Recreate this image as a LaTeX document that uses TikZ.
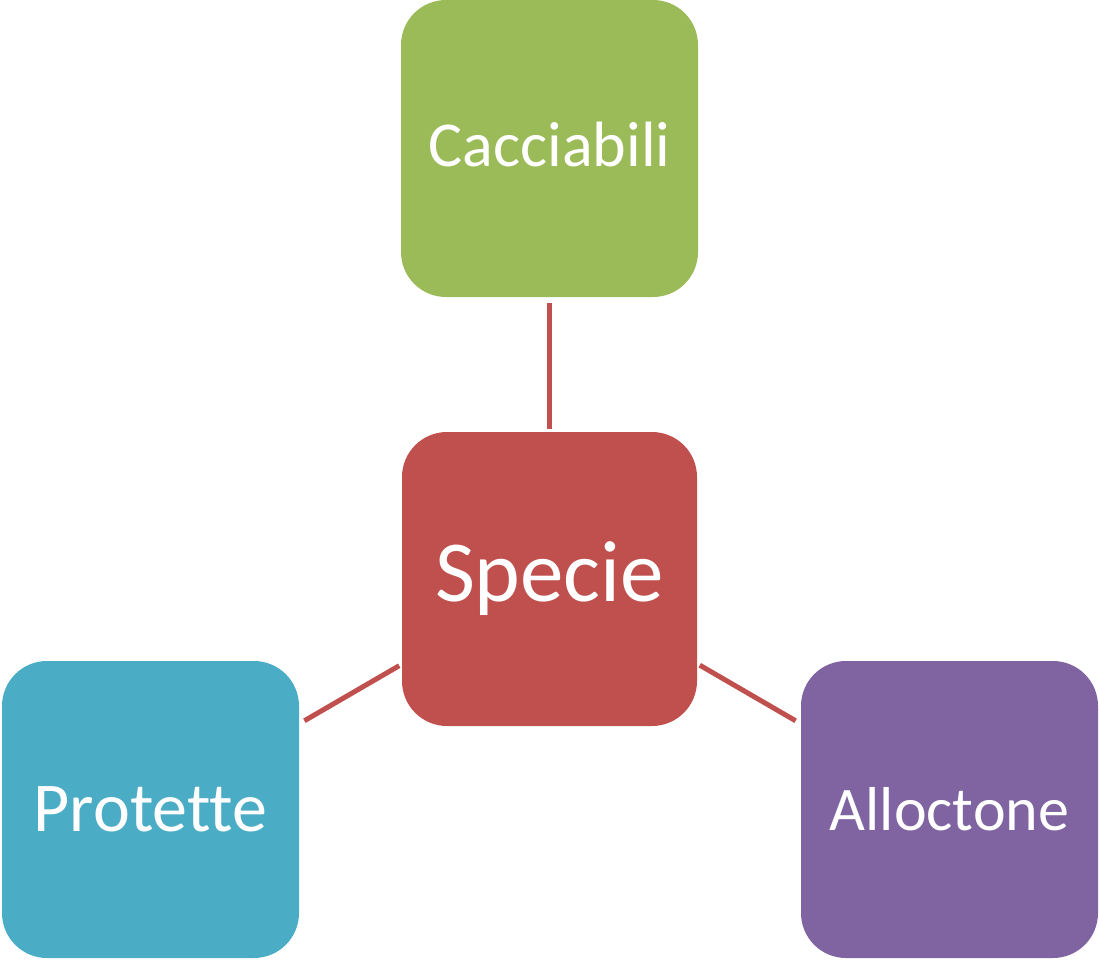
\documentclass[tikz,border=0pt]{standalone}
\usepackage{fontspec}
\setmainfont{Carlito}[Ligatures={NoCommon}]
\usetikzlibrary{positioning}

\definecolor{specred}{HTML}{C0504D}
\definecolor{cacgreen}{HTML}{9BBB59}
\definecolor{protblue}{HTML}{4BACC6}
\definecolor{allpurple}{HTML}{8064A2}

\begin{document}
\begin{tikzpicture}[x=1pt, y=1pt, on grid,
    box/.style={rounded corners=45pt, minimum width=297pt, minimum height=297pt,
                inner sep=0pt, text=white},
    fsize/.style={font=\fontsize{#1}{#1}\selectfont},
    link/.style={draw=specred, line width=5pt, shorten >=3pt, shorten <=6pt}]
  \useasboundingbox (0,0) rectangle (1099,-963);
  \node[box, fill=specred, minimum width=295pt, minimum height=294pt,
        fsize=87] (s) at (549.5,-579) {Specie};
  \node[box, fill=cacgreen, fsize=64, text depth=9pt] (c) [above=430.5pt of s] {Cacciabili};
  \node[box, fill=protblue, fsize=70] (p) [below left=230.5pt and 399pt of s] {Protette};
  \node[box, fill=allpurple, fsize=62] (a) [below right=230.5pt and 400pt of s] {Alloctone};
  \path[link]
    (c) edge (s)
    (p) edge (s)
    (a) edge (s);
\end{tikzpicture}
\end{document}
